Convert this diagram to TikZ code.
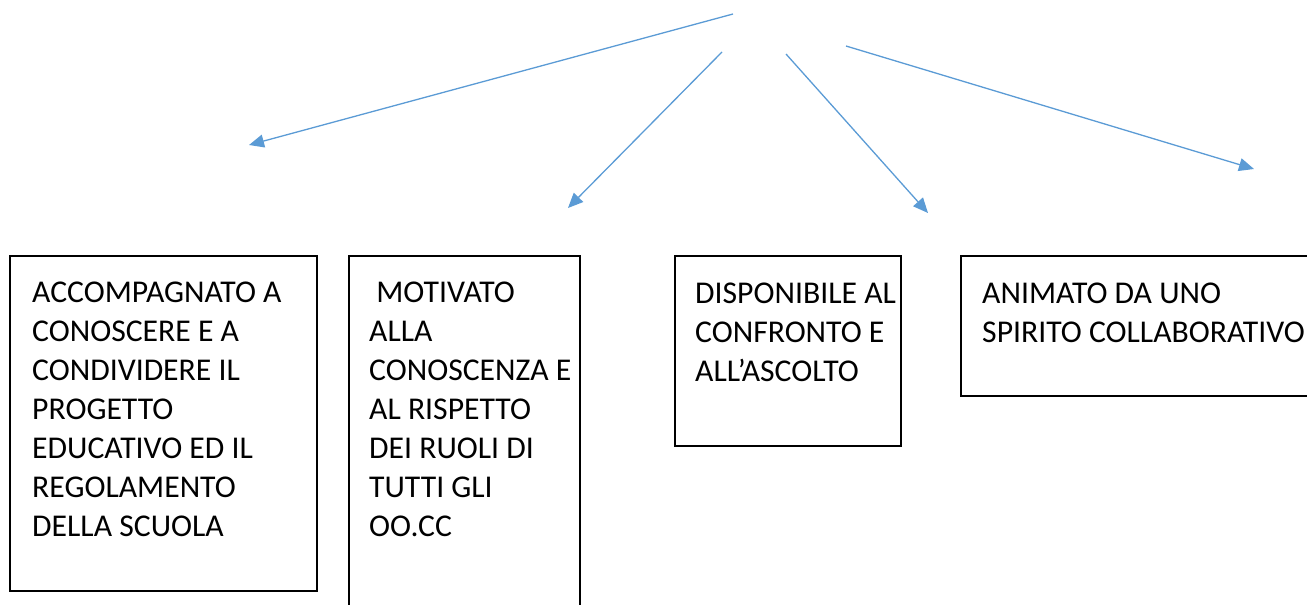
\documentclass[tikz,border=0pt]{standalone}
\usepackage{fontspec}
\setmainfont{Carlito}
\usetikzlibrary{arrows.meta, positioning}
\usepackage{xcolor}
\definecolor{arrowblue}{RGB}{91, 155, 213}

\begin{document}
\begin{tikzpicture}[
    x=1pt, y=-1pt,
    box/.style={rectangle, draw=black, line width=2.7pt, inner sep=0pt},
    boxtext/.style={anchor=north west, inner sep=0pt, align=left, font=\fontsize{31.7}{39}\selectfont},
    arrow/.style={-{Triangle[length=15pt, width=13pt]}, line width=1.3pt, color=arrowblue},
]
\useasboundingbox (0,0) rectangle (1307,605);
\clip (0,0) rectangle (1307,605);

% Arrow ends
\coordinate (startaccomp) at (733,14);
\coordinate (endaccomp) at (249,145);
\coordinate (startmotiv) at (722,52);
\coordinate (endmotiv) at (568,208);
\coordinate (startdispo) at (786,54);
\coordinate (enddispo) at (928,213);
\coordinate (startanim) at (846,46);
\coordinate (endanim) at (1254,169);

\draw[arrow] (startaccomp) -- (endaccomp);
\draw[arrow] (startmotiv) -- (endmotiv);
\draw[arrow] (startdispo) -- (enddispo);
\draw[arrow] (startanim) -- (endanim);

% Boxes
\node[box, minimum width=307, minimum height=335] (accomp) at (163.5,423.5) {};
\node[box, minimum width=231, minimum height=359] (motiv) at (464.5,435.5) {};
\node[box, minimum width=226, minimum height=190] (dispo) at (788,351) {};
\node[box, minimum width=354, minimum height=140] (anim) at (1138,326) {};

% Texts
\node[boxtext] (accomptext) at (32,282) {ACCOMPAGNATO A\\CONOSCERE E A\\CONDIVIDERE IL\\PROGETTO\\EDUCATIVO ED IL\\REGOLAMENTO\\DELLA SCUOLA};
\node[boxtext] (motivtext) at (369,282) {\ MOTIVATO\\ALLA\\CONOSCENZA E\\AL RISPETTO\\DEI RUOLI DI\\TUTTI GLI\\OO.CC};
\node[boxtext] (dispotext) at (695,283) {DISPONIBILE AL\\CONFRONTO E\\ALL’ASCOLTO};
\node[boxtext] (animtext) at (982,283) {ANIMATO DA UNO\\SPIRITO COLLABORATIVO};

\end{tikzpicture}
\end{document}
